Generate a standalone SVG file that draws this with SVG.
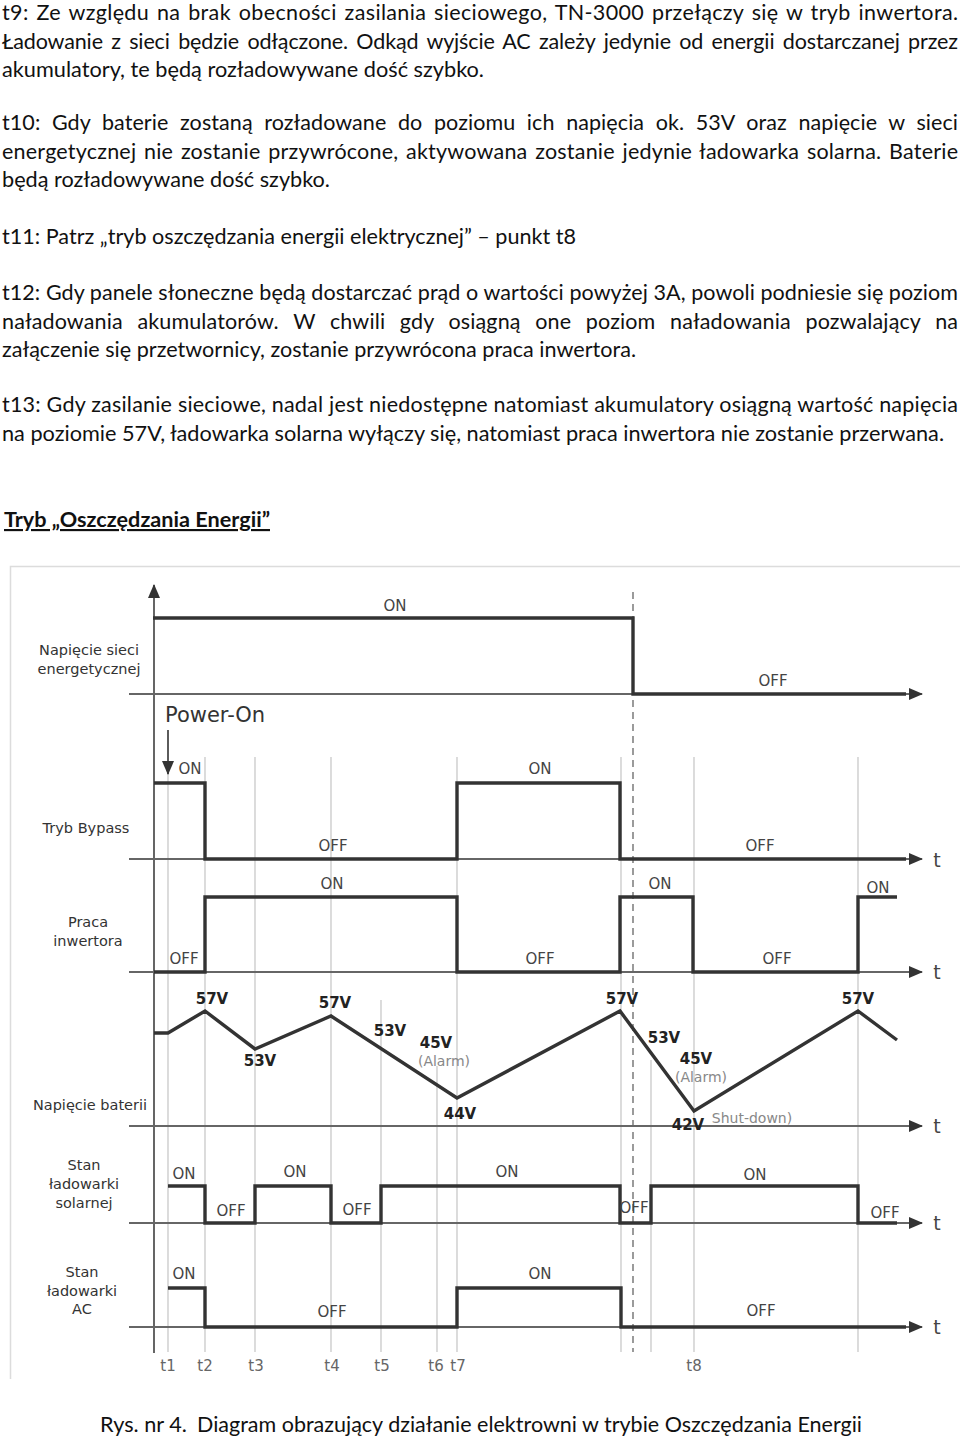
<svg xmlns="http://www.w3.org/2000/svg" width="960" height="1438" viewBox="0 0 960 1438">
<style>
.p{font-family:Lato,"Open Sans","Liberation Sans",sans-serif;font-size:21.5px;fill:#111}
.pb{font-family:Lato,"Open Sans","Liberation Sans",sans-serif;font-size:21.5px;font-weight:bold;fill:#111;text-decoration:underline}
.lab{font-family:"DejaVu Sans","Liberation Sans",sans-serif;font-size:14.5px;fill:#333;text-anchor:middle}
.st{font-family:"DejaVu Sans","Liberation Sans",sans-serif;font-size:15px;fill:#444;text-anchor:middle}
.v{font-family:"DejaVu Sans","Liberation Sans",sans-serif;font-size:15px;font-weight:bold;fill:#222;text-anchor:middle}
.al{font-family:"DejaVu Sans","Liberation Sans",sans-serif;font-size:14px;fill:#888;text-anchor:middle}
.tt{font-family:"DejaVu Sans","Liberation Sans",sans-serif;font-size:19px;fill:#444;text-anchor:middle}
.tl{font-family:"DejaVu Sans","Liberation Sans",sans-serif;font-size:15px;fill:#666;text-anchor:middle}
.grid{stroke:#c4c4c4;stroke-width:1.2;fill:none}
.base{stroke:#666;stroke-width:1.8;fill:none}
.wave{stroke:#333;stroke-width:3.4;fill:none;stroke-linejoin:miter;stroke-linecap:butt}
</style>
<defs>
<marker id="arr" markerUnits="userSpaceOnUse" markerWidth="14" markerHeight="12" refX="13" refY="6" orient="auto">
<path d="M0,0 L14,6 L0,12 z" fill="#333"/>
</marker>
</defs>

<g id="text-paragraphs">
<text class="p" x="2" y="20" textLength="956" lengthAdjust="spacing" word-spacing="2">t9: Ze względu na brak obecności zasilania sieciowego, TN-3000 przełączy się w tryb inwertora.</text>
<text class="p" x="2" y="48.5" textLength="956" lengthAdjust="spacing" word-spacing="3">Ładowanie z sieci będzie odłączone. Odkąd wyjście AC zależy jedynie od energii dostarczanej przez</text>
<text class="p" x="2" y="77" textLength="482" lengthAdjust="spacingAndGlyphs">akumulatory, te będą rozładowywane dość szybko.</text>
<text class="p" x="2" y="130" textLength="956" lengthAdjust="spacing" word-spacing="6">t10: Gdy baterie zostaną rozładowane do poziomu ich napięcia ok. 53V oraz napięcie w sieci</text>
<text class="p" x="2" y="158.5" textLength="956" lengthAdjust="spacing" word-spacing="2">energetycznej nie zostanie przywrócone, aktywowana zostanie jedynie ładowarka solarna. Baterie</text>
<text class="p" x="2" y="187" textLength="328" lengthAdjust="spacingAndGlyphs">będą rozładowywane dość szybko.</text>
<text class="p" x="2" y="244" textLength="574" lengthAdjust="spacingAndGlyphs">t11: Patrz „tryb oszczędzania energii elektrycznej” – punkt t8</text>
<text class="p" x="2" y="300" textLength="956" lengthAdjust="spacing">t12: Gdy panele słoneczne będą dostarczać prąd o wartości powyżej 3A, powoli podniesie się poziom</text>
<text class="p" x="2" y="328.5" textLength="956" lengthAdjust="spacing" word-spacing="9">naładowania akumulatorów. W chwili gdy osiągną one poziom naładowania pozwalający na</text>
<text class="p" x="2" y="357" textLength="634" lengthAdjust="spacingAndGlyphs">załączenie się przetwornicy, zostanie przywrócona praca inwertora.</text>
<text class="p" x="2" y="412" textLength="956" lengthAdjust="spacing">t13: Gdy zasilanie sieciowe, nadal jest niedostępne natomiast akumulatory osiągną wartość napięcia</text>
<text class="p" x="2" y="441" textLength="942" lengthAdjust="spacingAndGlyphs">na poziomie 57V, ładowarka solarna wyłączy się, natomiast praca inwertora nie zostanie przerwana.</text>
<text class="pb" x="4" y="527" textLength="266" lengthAdjust="spacingAndGlyphs">Tryb „Oszczędzania Energii”</text>
<text class="p" x="100" y="1432" textLength="87" lengthAdjust="spacingAndGlyphs">Rys. nr 4.</text>
<text class="p" x="197" y="1432" textLength="665" lengthAdjust="spacingAndGlyphs">Diagram obrazujący działanie elektrowni w trybie Oszczędzania Energii</text>
</g>

<g id="frame">
<path d="M960,566.5 H10.5 V1379" stroke="#dcdcdc" stroke-width="1.5" fill="none"/>
</g>

<g id="grid">
<line class="grid" x1="168" y1="773" x2="168" y2="1352"/>
<line class="grid" x1="205" y1="757" x2="205" y2="1352"/>
<line class="grid" x1="255" y1="757" x2="255" y2="1352"/>
<line class="grid" x1="331" y1="757" x2="331" y2="1352"/>
<line class="grid" x1="381" y1="1000" x2="381" y2="1352"/>
<line class="grid" x1="437" y1="1066" x2="437" y2="1352"/>
<line class="grid" x1="457" y1="757" x2="457" y2="1352"/>
<line class="grid" x1="621" y1="757" x2="621" y2="1352"/>
<line class="grid" x1="651" y1="1060" x2="651" y2="1352"/>
<line class="grid" x1="694" y1="757" x2="694" y2="1352"/>
<line class="grid" x1="858" y1="757" x2="858" y2="1352"/>
<line x1="633" y1="592" x2="633" y2="1352" stroke="#666" stroke-width="1.3" stroke-dasharray="7 5"/>
</g>

<g id="axes">
<line x1="154" y1="1353" x2="154" y2="585" stroke="#555" stroke-width="1.8" marker-end="url(#arr)"/>
<line class="base" x1="129" y1="694" x2="922" y2="694" marker-end="url(#arr)"/>
<line class="base" x1="129" y1="859" x2="922" y2="859" marker-end="url(#arr)"/>
<line class="base" x1="129" y1="972" x2="922" y2="972" marker-end="url(#arr)"/>
<line class="base" x1="129" y1="1126" x2="922" y2="1126" marker-end="url(#arr)"/>
<line class="base" x1="129" y1="1223" x2="922" y2="1223" marker-end="url(#arr)"/>
<line class="base" x1="129" y1="1327" x2="922" y2="1327" marker-end="url(#arr)"/>
<text class="tt" x="937" y="867">t</text>
<text class="tt" x="937" y="979">t</text>
<text class="tt" x="937" y="1133">t</text>
<text class="tt" x="937" y="1230">t</text>
<text class="tt" x="937" y="1334">t</text>
</g>

<g id="row-siec">
<text class="lab" x="89" y="655">Napięcie sieci</text>
<text class="lab" x="89" y="674">energetycznej</text>
<path class="wave" d="M153,618 H633 V694 H906"/>
<text class="st" x="395" y="611">ON</text>
<text class="st" x="773" y="686">OFF</text>
</g>

<g id="power-on">
<text x="165" y="722" font-family="DejaVu Sans, Liberation Sans, sans-serif" font-size="21" fill="#333">Power-On</text>
<line x1="168" y1="730" x2="168" y2="774" stroke="#333" stroke-width="1.6" marker-end="url(#arr)"/>
</g>

<g id="row-bypass">
<text class="lab" x="86" y="833">Tryb Bypass</text>
<path class="wave" d="M154,783 H205 V859 H457 V783 H620 V859 H906"/>
<text class="st" x="190" y="774">ON</text>
<text class="st" x="333" y="851">OFF</text>
<text class="st" x="540" y="774">ON</text>
<text class="st" x="760" y="851">OFF</text>
</g>

<g id="row-inwerter">
<text class="lab" x="88" y="927">Praca</text>
<text class="lab" x="88" y="946">inwertora</text>
<path class="wave" d="M154,972 H205 V897 H457 V972 H620 V897 H693 V972 H858 V897 H897"/>
<text class="st" x="184" y="964">OFF</text>
<text class="st" x="332" y="889">ON</text>
<text class="st" x="540" y="964">OFF</text>
<text class="st" x="660" y="889">ON</text>
<text class="st" x="777" y="964">OFF</text>
<text class="st" x="878" y="893">ON</text>
</g>

<g id="row-bateria">
<text class="lab" x="90" y="1110">Napięcie baterii</text>
<polyline class="wave" points="154,1033 168,1033 205,1011 255,1049 331,1016 457,1098 620,1011 694,1111 858,1011 897,1040"/>
<text class="v" x="212" y="1004">57V</text>
<text class="v" x="260" y="1066">53V</text>
<text class="v" x="335" y="1008">57V</text>
<text class="v" x="390" y="1036">53V</text>
<text class="v" x="436" y="1048">45V</text>
<text class="al" x="444" y="1066">(Alarm)</text>
<text class="v" x="460" y="1119">44V</text>
<text class="v" x="622" y="1004">57V</text>
<text class="v" x="664" y="1043">53V</text>
<text class="v" x="696" y="1064">45V</text>
<text class="al" x="701" y="1082">(Alarm)</text>
<text class="v" x="688" y="1130">42V</text>
<text class="al" x="752" y="1123">Shut-down)</text>
<text class="v" x="858" y="1004">57V</text>
</g>

<g id="row-solar">
<text class="lab" x="84" y="1170">Stan</text>
<text class="lab" x="84" y="1189">ładowarki</text>
<text class="lab" x="84" y="1208">solarnej</text>
<path class="wave" d="M168,1186 H205 V1223 H255 V1186 H331 V1223 H381 V1186 H620 V1223 H651 V1186 H858 V1223 H897"/>
<text class="st" x="184" y="1179">ON</text>
<text class="st" x="231" y="1216">OFF</text>
<text class="st" x="295" y="1177">ON</text>
<text class="st" x="357" y="1215">OFF</text>
<text class="st" x="507" y="1177">ON</text>
<text class="st" x="634" y="1213" font-size="11">OFF</text>
<text class="st" x="755" y="1180">ON</text>
<text class="st" x="885" y="1218">OFF</text>
</g>

<g id="row-ac">
<text class="lab" x="82" y="1277">Stan</text>
<text class="lab" x="82" y="1296">ładowarki</text>
<text class="lab" x="82" y="1314">AC</text>
<path class="wave" d="M168,1288 H205 V1327 H457 V1288 H621 V1327 H906"/>
<text class="st" x="184" y="1279">ON</text>
<text class="st" x="332" y="1317">OFF</text>
<text class="st" x="540" y="1279">ON</text>
<text class="st" x="761" y="1316">OFF</text>
</g>

<g id="time-labels">
<text class="tl" x="168" y="1371">t1</text>
<text class="tl" x="205" y="1371">t2</text>
<text class="tl" x="256" y="1371">t3</text>
<text class="tl" x="332" y="1371">t4</text>
<text class="tl" x="382" y="1371">t5</text>
<text class="tl" x="436" y="1371">t6</text>
<text class="tl" x="458" y="1371">t7</text>
<text class="tl" x="694" y="1371">t8</text>
</g>
</svg>
